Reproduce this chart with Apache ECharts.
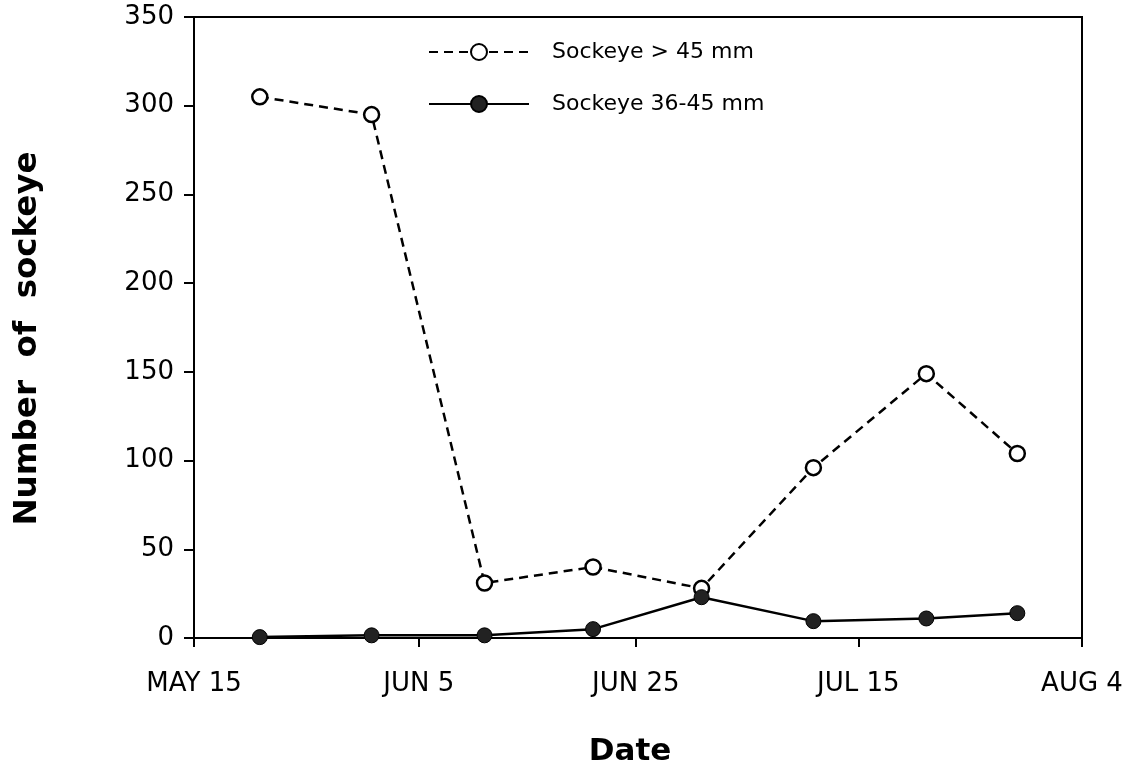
<!DOCTYPE html>
<html><head><meta charset="utf-8">
<script src="https://cdn.jsdelivr.net/npm/echarts@6/dist/echarts.min.js"></script>
<style>html,body{margin:0;background:#fff}#c{width:1133px;height:768px}</style>
</head><body><div id="c"></div>
<script>
// x axis: days after May 15
const tickDays = [0, 20.5, 40.3, 60.6, 81];
const tickLabels = ['MAY 15', 'JUN 5', 'JUN 25', 'JUL 15', 'AUG 4'];
const sampleDays = [6.0, 16.2, 26.5, 36.4, 46.3, 56.5, 66.8, 75.1];
const over45 = [305, 295, 31, 40, 28, 96, 149, 104];
const mid3645 = [0.5, 1.5, 1.5, 5, 23, 9.5, 11, 14];
const seriesNames = ['Sockeye > 45 mm', 'Sockeye 36-45 mm'];
const yTitle = 'Number  of  sockeye';
const xTitle = 'Date';

const zip = (xs, ys) => xs.map((x, i) => [x, ys[i]]);
const FONT = 'DejaVu Sans';

const chart = echarts.init(document.getElementById('c'));
chart.setOption({
  animation: false,
  backgroundColor: '#fff',
  grid: { left: 194, right: 51, top: 17, bottom: 130, show: true, borderColor: '#000', borderWidth: 2,
          containLabel: false, outerBoundsMode: 'none' },
  legend: {
    orient: 'vertical', left: 423, top: 36,
    itemWidth: 100, itemHeight: 20, itemGap: 30,
    data: seriesNames,
    textStyle: { fontFamily: FONT, fontSize: 22, color: '#000', padding: [0, 0, 0, 18] }
  },
  xAxis: {
    type: 'value', min: 0, max: 81,
    name: xTitle, nameLocation: 'middle', nameGap: 98,
    nameTextStyle: { fontFamily: FONT, fontWeight: 'bold', fontSize: 31, color: '#000', padding: [0, 16, 0, 0] },
    axisLine: { onZero: false, lineStyle: { color: '#000', width: 2 } },
    axisTick: { customValues: tickDays, length: 9, lineStyle: { color: '#000', width: 2 } },
    axisLabel: {
      customValues: tickDays, margin: 33,
      fontFamily: FONT, fontSize: 26, color: '#000',
      formatter: v => tickLabels[tickDays.indexOf(v)]
    },
    splitLine: { show: false }
  },
  yAxis: {
    type: 'value', min: 0, max: 350, interval: 50,
    name: yTitle, nameLocation: 'middle', nameGap: 150,
    nameTextStyle: { fontFamily: FONT, fontWeight: 'bold', fontSize: 32.5, color: '#000', padding: [0, 22, 0, 0] },
    axisLine: { show: true, lineStyle: { color: '#000', width: 2 } },
    axisTick: { show: true, length: 10, lineStyle: { color: '#000', width: 2 } },
    axisLabel: { margin: 20, fontFamily: FONT, fontSize: 26, color: '#000' },
    splitLine: { show: false }
  },
  series: [
    {
      name: seriesNames[0], type: 'line', data: zip(sampleDays, over45),
      symbol: 'circle', symbolSize: 15, z: 2,
      lineStyle: { color: '#000', width: 2.5, type: [9, 6] },
      itemStyle: { color: '#fff', borderColor: '#000', borderWidth: 2.5 }
    },
    {
      name: seriesNames[1], type: 'line', data: zip(sampleDays, mid3645),
      symbol: 'circle', symbolSize: 15, z: 3,
      lineStyle: { color: '#000', width: 2.5, type: 'solid' },
      itemStyle: { color: '#222', borderColor: '#000', borderWidth: 1 }
    }
  ]
});
</script></body></html>
